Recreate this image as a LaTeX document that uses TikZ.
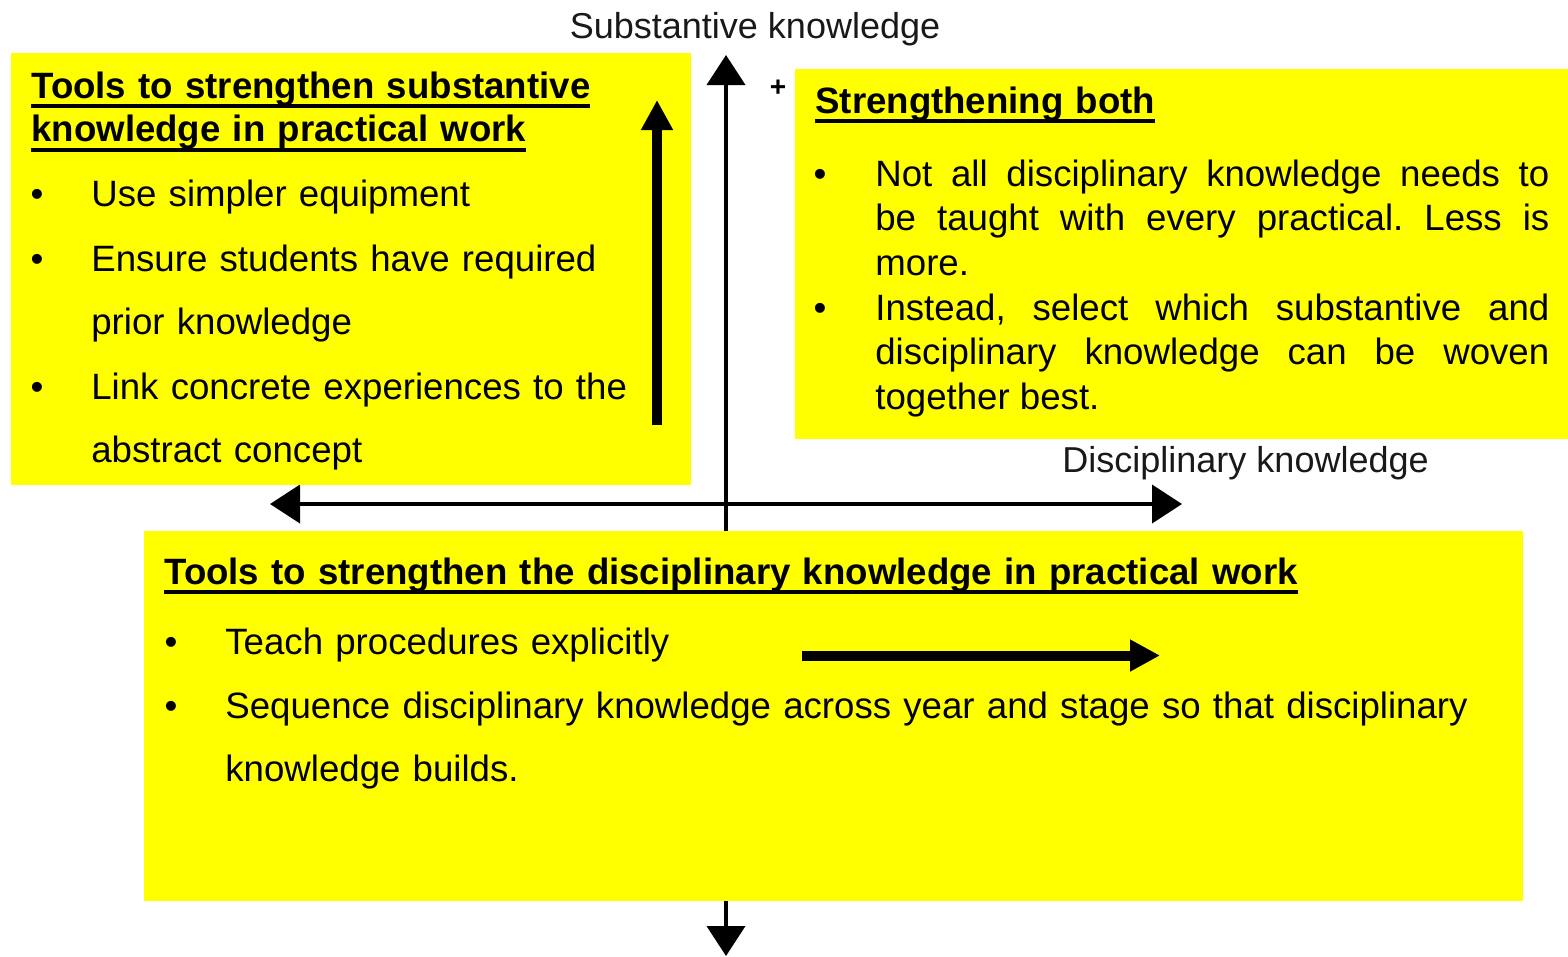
\documentclass[tikz,border=0pt]{standalone}
\usepackage{fontspec}
\setmainfont{Liberation Sans}
\usetikzlibrary{arrows.meta}

\definecolor{boxyellow}{RGB}{255,255,0}

\newsavebox{\ulbox}
\newcommand{\headline}[1]{\leavevmode\sbox\ulbox{#1}\smash{\rlap{\rule[-2mm]{\wd\ulbox}{0.8mm}}}\usebox\ulbox}

\newcommand{\bodyfont}{\fontsize{20.85pt}{36.4pt}\selectfont}
\newcommand{\tightfont}{\fontsize{20.85pt}{25.6pt}\selectfont}
\newcommand{\headfont}{\fontsize{20.85pt}{25pt}\selectfont\bfseries}

\frenchspacing

\begin{document}
\begin{tikzpicture}[x=0.2mm,y=-0.2mm]
		\tikzstyle{box}=[fill=boxyellow,draw=none]
		\tikzstyle{axis}=[line width=0.8mm,{Triangle[length=6mm,width=7.6mm]}-{Triangle[length=6mm,width=7.6mm]}]
		\tikzstyle{push}=[line width=2mm,-{Triangle[length=6mm,width=6mm]}]
		\tikzstyle{head}=[anchor=base west,inner sep=0pt,font=\headfont,align=left]
		\tikzstyle{body}=[anchor=base west,inner sep=0pt,font=\bodyfont,align=left]
		\tikzstyle{dot}=[anchor=base,inner sep=0pt,font=\bodyfont]
		\tikzstyle{axlabel}=[inner sep=0pt,text=black!90,font=\fontsize{20.5pt}{24pt}\selectfont]

		\useasboundingbox (0,0) rectangle (1568,956);

		\coordinate (ytop) at (726,55);
		\coordinate (ybot) at (726,956);
		\coordinate (xleft) at (270,504);
		\coordinate (xright) at (1182,504);

		\draw[axis] (ybot) -- (ytop);
		\draw[axis] (xleft) -- (xright);

		\node[axlabel,anchor=base] (ylab) at (755,38){Substantive knowledge};
		\node[axlabel,anchor=base west] (xlab) at (1062,472){Disciplinary knowledge};
		\node[inner sep=0pt,font=\fontsize{16pt}{18pt}\selectfont\bfseries] (plus) at (778,88){+};

		\fill[box] (11,53) rectangle (691,485);
		\fill[box] (795,69) rectangle (1568,439);
		\fill[box] (144,531) rectangle (1523,901);

		% substantive quadrant
		\node[head,text width=130mm] (lhead) at (31,98){\headline{Tools to strengthen substantive}\\\headline{knowledge in practical work}};
		\node[dot] (lb1) at (37,206){\textbullet};
		\node[dot] (lb2) at (37,271){\textbullet};
		\node[dot] (lb3) at (37,399){\textbullet};
		\node[body,text width=115mm] (l1) at (91,206){Use simpler equipment};
		\node[body,text width=115mm] (l2) at (91,271){Ensure students have required\\prior knowledge};
		\node[body,text width=115mm] (l3) at (91,399){Link concrete experiences to the\\abstract concept};

		\coordinate (s0) at (657,425);
		\coordinate (s1) at (657,100);
		\draw[push] (s0) -- (s1);

		% both
		\node[head,text width=130mm] (rhead) at (815,113){\headline{Strengthening both}};
		\node[dot] (rb1) at (820,186){\textbullet};
		\node[dot] (rb2) at (820,320){\textbullet};
		\node[body,font=\tightfont,text width=134.8mm,align=justify] (r1) at (875,186){Not all disciplinary knowledge needs to\linebreak be taught with every practical. Less is\linebreak more.};
		\node[body,font=\tightfont,text width=134.8mm,align=justify] (r2) at (875,320){Instead, select which substantive and\linebreak disciplinary knowledge can be woven\linebreak together best.};

		% disciplinary quadrant
		\node[head,text width=260mm] (bhead) at (164,584){\headline{Tools to strengthen the disciplinary knowledge in practical work}};
		\node[dot] (bb1) at (171,654){\textbullet};
		\node[dot] (bb2) at (171,718){\textbullet};
		\node[body,text width=260mm] (b1) at (225,654){Teach procedures explicitly};
		\node[body,text width=260mm] (b2) at (225,718){Sequence disciplinary knowledge across year and stage so that disciplinary\\knowledge builds.};

		\coordinate (d0) at (802,655.5);
		\coordinate (d1) at (1160,655.5);
		\draw[push] (d0) -- (d1);
	\end{tikzpicture}
\end{document}
